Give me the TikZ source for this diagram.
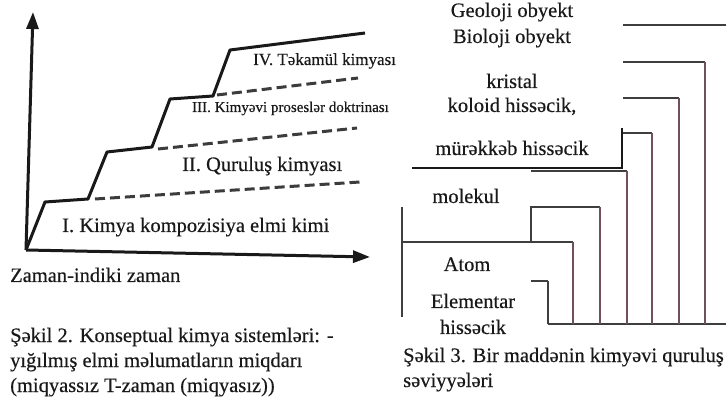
\documentclass[tikz,border=0pt]{standalone}
\usepackage{fontspec}
\setmainfont{Liberation Serif}[FakeBold=0.35]
\usetikzlibrary{arrows.meta}
\definecolor{ink}{RGB}{25,25,25}
\definecolor{hline}{RGB}{62,62,62}
\definecolor{vline}{RGB}{112,80,90}
\begin{document}
\begin{tikzpicture}[x=1pt,y=-1pt,
  lbl/.style={text=ink, inner sep=0pt, font=\fontsize{20.5}{24}\selectfont},
  lblIV/.style={lbl, font=\fontsize{17}{20}\selectfont},
  lblIII/.style={lbl, font=\fontsize{15}{18}\selectfont},
  axis/.style={line width=3pt, draw=ink, -{Triangle[length=17pt,width=12pt]}},
  stair/.style={line width=3pt, draw=ink, line join=round},
  dashline/.style={line width=3pt, draw=ink!85, dash pattern=on 10pt off 5pt},
  frame/.style={line width=2.3pt, draw=hline},
  riser/.style={line width=2.1pt, draw=vline}]
\useasboundingbox (0,0) rectangle (726,398);
% ---------- left chart ----------
\coordinate (O) at (26,250);
\coordinate (Ytop) at (33,12);
\coordinate (Xend) at (370,257);
\draw[axis] (O) -- (Ytop);
\draw[axis] (O) -- (Xend);
\coordinate (s1) at (45,202);
\coordinate (s2) at (88,199);
\coordinate (s3) at (107,152);
\coordinate (s4) at (152,147);
\coordinate (s5) at (170,99);
\coordinate (s6) at (213,96);
\coordinate (s7) at (230,50);
\coordinate (s8) at (365,33);
\draw[stair] (O) -- (s1) -- (s2) -- (s3) -- (s4) -- (s5) -- (s6) -- (s7) -- (s8);
\coordinate (d1a) at (95,199);  \coordinate (d1b) at (360,182);
\coordinate (d2a) at (158,149); \coordinate (d2b) at (357,128);
\coordinate (d3a) at (217,95);  \coordinate (d3b) at (358,78);
\draw[dashline] (d1a) -- (d1b);
\draw[dashline] (d2a) -- (d2b);
\draw[dashline] (d3a) -- (d3b);
\node[lblIV, anchor=base west] (tIV) at (253,65) {IV. Təkamül kimyası};
\node[lblIII, anchor=base west] (tIII) at (192,112) {III. Kimyəvi proseslər doktrinası};
\node[lbl, anchor=base west] (tII) at (182,171) {II. Quruluş kimyası};
\node[lbl, anchor=base west] (tI) at (62,232) {I. Kimya kompozisiya elmi kimi};
\node[lbl, anchor=base west] (tX) at (10,282) {Zaman-indiki zaman};
\node[lbl, anchor=base west] (c2a) at (10,342) {Şəkil 2. Konseptual kimya sistemləri: -};
\node[lbl, anchor=base west] (c2b) at (10,367) {yığılmış elmi məlumatların miqdarı};
\node[lbl, anchor=base west] (c2c) at (10,392) {(miqyassız T-zaman (miqyasız))};
% ---------- right diagram ----------
\node[lbl, anchor=base] (geo) at (512,17) {Geoloji obyekt};
\node[lbl, anchor=base] (bio) at (512,43) {Bioloji obyekt};
\node[lbl, anchor=base] (kri) at (512,88) {kristal};
\node[lbl, anchor=base] (kol) at (512,112) {koloid hissəcik,};
\node[lbl, anchor=base] (mur) at (512,155) {mürəkkəb hissəcik};
\node[lbl, anchor=base] (mol) at (466,203) {molekul};
\node[lbl, anchor=base] (ato) at (467,271) {Atom};
\node[lbl, anchor=base] (ele) at (473,308) {Elementar};
\node[lbl, anchor=base] (his) at (473,334) {hissəcik};
\node[lbl, anchor=base west] (c3a) at (403,362) {Şəkil 3. Bir maddənin kimyəvi quruluş};
\node[lbl, anchor=base west] (c3b) at (403,387) {səviyyələri};
% horizontals
\draw[frame] (623,25) -- (726,25);
\draw[frame] (623,62) -- (705,62);
\draw[frame] (623,98) -- (679,98);
\draw[frame] (623,133) -- (652,133);
\draw[frame, line width=1.8pt, draw=ink] (622,128) -- (622,168) -- (412,168);
\draw[frame] (531,171) -- (627,171);
\draw[frame] (531,242) -- (531,207) -- (600,207);
\draw[frame] (402,242) -- (573,242);
\draw[frame, line width=1.8pt] (402,207) -- (402,317);
\draw[frame] (531,281) -- (548,281);
\draw[frame] (548,324) -- (726,324);
% risers
\draw[riser] (705,62) -- (705,324);
\draw[riser] (679,98) -- (679,324);
\draw[riser] (652,133) -- (652,324);
\draw[riser] (627,171) -- (627,324);
\draw[riser] (600,207) -- (600,324);
\draw[riser] (573,242) -- (573,324);
\draw[riser, draw=hline] (548,281) -- (548,324);
\end{tikzpicture}
\end{document}
